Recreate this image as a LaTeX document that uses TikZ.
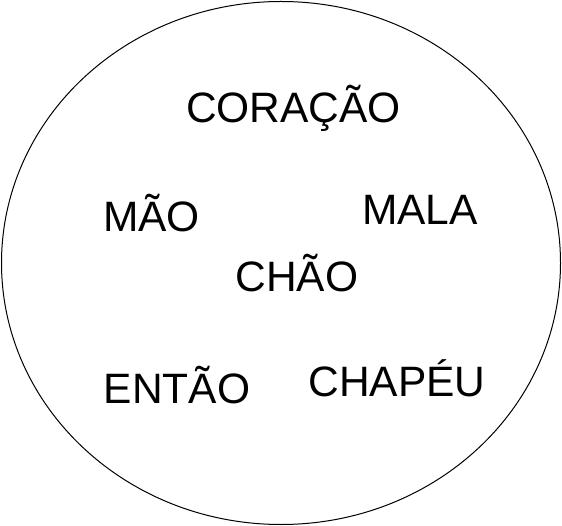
\documentclass[tikz,border=0pt]{standalone}
\usepackage{fontspec}
\setmainfont{Liberation Sans}
\usetikzlibrary{shapes.geometric}
\begin{document}
\begin{tikzpicture}[x=1pt,y=-1pt,
  word/.style={inner sep=0pt,anchor=base,font=\fontsize{42.5}{50}\selectfont}]
\useasboundingbox (0,0) rectangle (562,526);
\node[draw,ellipse,minimum width=559pt,minimum height=523pt,line width=1pt,inner sep=0pt] (circ) at (281,263) {};
\node[word] (coracao) at (293.5,123) {CORAÇÃO};
\node[word] (mao) at (151.5,232) {MÃO};
\node[word] (mala) at (420,225) {MALA};
\node[word] (chao) at (297,292) {CHÃO};
\node[word] (entao) at (177,403) {ENTÃO};
\node[word] (chapeu) at (397,396) {CHAPÉU};
\end{tikzpicture}
\end{document}
